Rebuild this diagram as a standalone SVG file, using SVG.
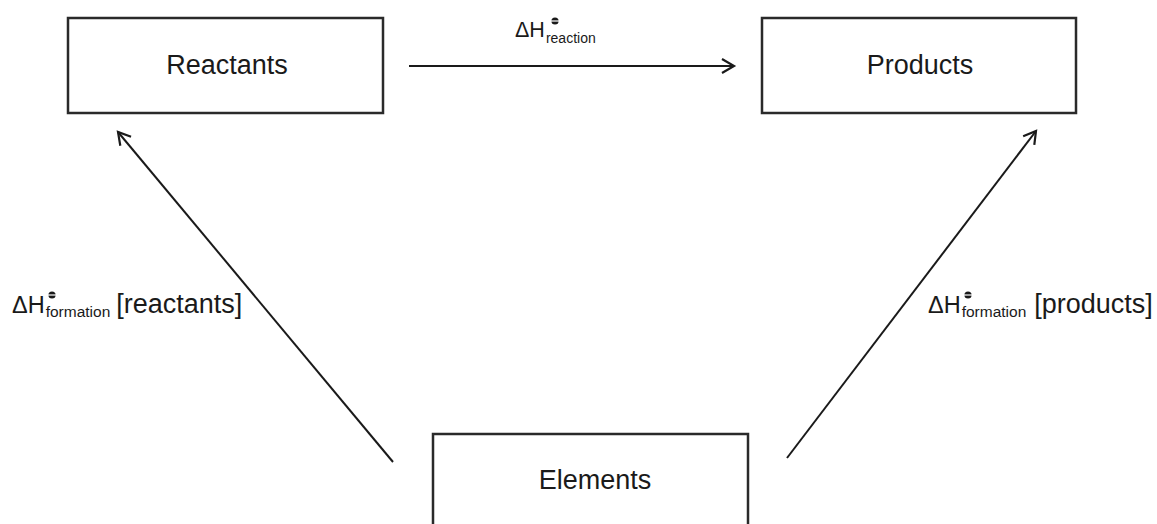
<svg xmlns="http://www.w3.org/2000/svg" width="1157" height="524" viewBox="0 0 1157 524">
<style>
.box{fill:#fff;stroke:#2a2a2a;stroke-width:2.5}
.lbl{font-family:"Liberation Sans",Arial,sans-serif;font-size:27px;fill:#1a1a1a;text-anchor:middle}
.t{font-family:"Liberation Sans",Arial,sans-serif;fill:#1a1a1a}
.conn{stroke:#1a1a1a;stroke-width:2;fill:none;marker-end:url(#arr)}
</style>
<defs>
<marker id="arr" markerWidth="20" markerHeight="20" refX="14" refY="8" orient="auto" markerUnits="userSpaceOnUse">
<path d="M2,1 L14,8 L2,15" fill="none" stroke="#1a1a1a" stroke-width="2.2"/>
</marker>
<g id="stdsym"><circle cx="0" cy="0" r="3.6" fill="#1a1a1a"/><line x1="-5" y1="0" x2="5" y2="0" stroke="#fff" stroke-width="1.2"/></g>
</defs>
<rect width="1157" height="524" fill="#fff"/>
<g id="reactants"><rect class="box" x="68" y="18" width="315" height="95"/><text class="lbl" x="227" y="74">Reactants</text></g>
<g id="products"><rect class="box" x="762" y="18" width="314" height="95"/><text class="lbl" x="920" y="74">Products</text></g>
<g id="elements"><rect class="box" x="433" y="434" width="315" height="110"/><text class="lbl" x="595" y="489">Elements</text></g>
<g id="connectors">
<line class="conn" x1="409" y1="66" x2="734" y2="66"/>
<line class="conn" x1="393" y1="462" x2="118" y2="132"/>
<line class="conn" x1="787" y1="458" x2="1036" y2="131"/>
</g>
<g id="labels">
<text class="t" x="515" y="37" font-size="21.5">ΔH<tspan font-size="14" dy="6" dx="1">reaction</tspan></text>
<use href="#stdsym" x="555" y="21"/>
<text class="t" x="12" y="313" font-size="23.5">ΔH<tspan font-size="15.5" dy="4" dx="1">formation</tspan><tspan font-size="27" dy="-4" dx="6">[reactants]</tspan></text>
<use href="#stdsym" x="52" y="295"/>
<text class="t" x="928" y="313" font-size="23.5">ΔH<tspan font-size="15.5" dy="4" dx="1">formation</tspan><tspan font-size="27" dy="-4" dx="8">[products]</tspan></text>
<use href="#stdsym" x="968" y="295"/>
</g>
</svg>
